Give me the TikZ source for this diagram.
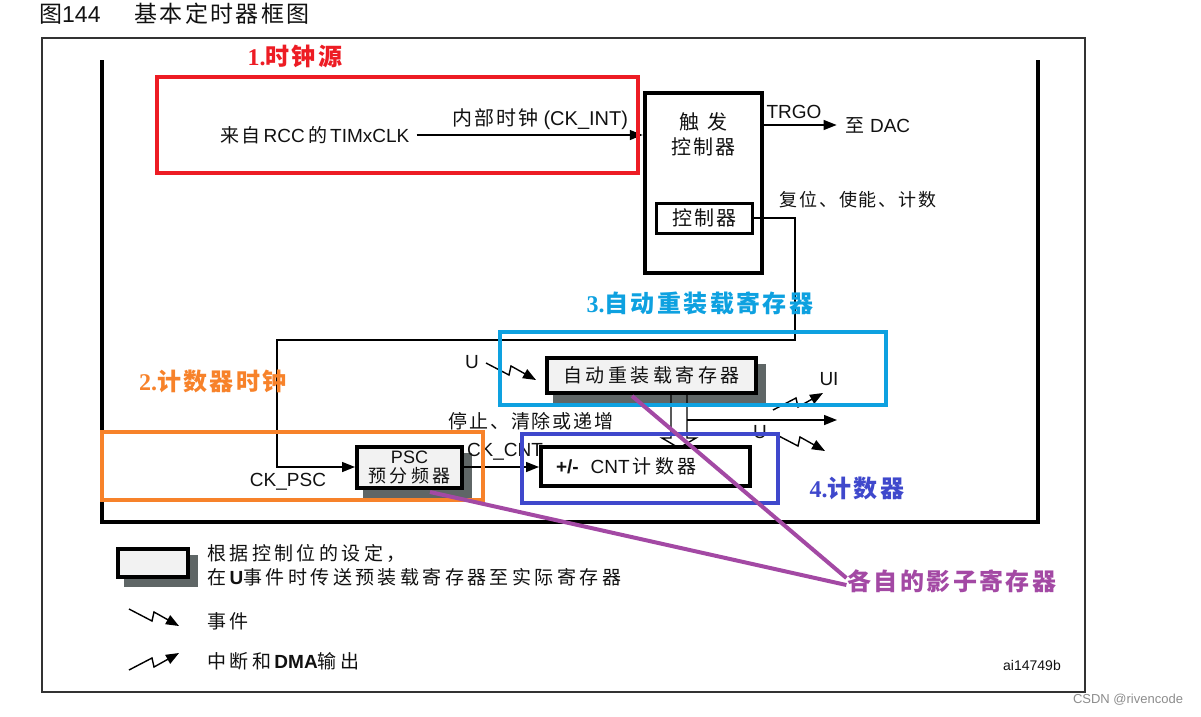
\documentclass[tikz,border=0pt]{standalone}
\usepackage{fontspec}
\setmainfont{Liberation Sans}
\newfontfamily\cjk{Noto Sans CJK SC}[LetterSpace=10]
\newfontfamily\cjkwide{Noto Sans CJK SC}[LetterSpace=18]
\newfontfamily\numfont{Liberation Serif}
\newcommand\zh[1]{{\cjk #1}}
\newcommand\zhw[1]{{\cjkwide #1}}
\usepackage{xcolor}
\definecolor{redc}{HTML}{ED1C24}
\definecolor{bluec}{HTML}{0EA1E0}
\definecolor{orangec}{HTML}{F7822A}
\definecolor{navyc}{HTML}{3F48CC}
\definecolor{purplec}{HTML}{A349A4}
\definecolor{boxgray}{HTML}{F2F2F2}
\definecolor{shadowgray}{HTML}{5F6666}
\definecolor{inkc}{HTML}{111111}
\usetikzlibrary{positioning,arrows.meta,calc}
\pgfdeclarelayer{shadowlayer}
\pgfsetlayers{shadowlayer,main}
\tikzset{
  txt/.style={font=\fontsize{19}{22}\selectfont, text=inkc, inner sep=1pt},
  areatag/.style={font=\fontsize{24}{26}\selectfont\bfseries, inner sep=1pt},
  ctlbox/.style={draw=black, line width=4.5pt, fill=white, inner sep=0pt, txt},
  regbox/.style={ctlbox, line width=4pt, fill=boxgray},
  boxshade/.style={fill=shadowgray},
  hilite/.style={draw=#1, line width=4pt},
  sig/.style={-{Triangle[length=13pt,width=10pt]}, line width=1.4pt},
  wire/.style={line width=1.4pt},
  shline/.style={draw=purplec, line width=4pt},
  outerframe/.style={draw=black!80, line width=2pt},
  wall/.style={draw=black, line width=4.5pt},
  evtsym/.pic={\draw[sig] (0,0) -- (23,12) -- (25,3) -- (50,17);},
  irqsym/.pic={\draw[sig] (0,0) -- (23,-12) -- (25,-3) -- (50,-17);},
}
\begin{document}
\begin{tikzpicture}[x=1pt,y=-1pt]
  \useasboundingbox (0,0) rectangle (1201,716);
  \node[txt, anchor=west, font=\fontsize{23}{26}\selectfont] (title) at (38,14) {\zh{图}144\hspace{34pt}\zh{基本定时器框图}};
  \draw[outerframe] (42,38) rectangle (1085,692);
  \draw[wall] (102,60) -- (102,522) -- (1038,522) -- (1038,60);

  % clock source and trigger controller
  \node[txt] (src) at (315,135) {\zh{来自}\,RCC\,\zh{的}\,TIMxCLK};
  \node[ctlbox, minimum width=117, minimum height=180] (trig) at (703.5,183) {};
  \node[txt, align=center, font=\fontsize{20}{25}\selectfont, below=21pt of trig.north] (trigtxt) {\zh{触\hspace{8pt}发}\\\zh{控制器}};
  \node[ctlbox, line width=3pt, minimum width=96, minimum height=30, font=\fontsize{20}{22}\selectfont] (ctl) at (704,218) {\zh{控制器}};
  \node[txt, font=\fontsize{20}{22}\selectfont] (ckint) at (540,119) {\zh{内部时钟} (CK\_INT)};
  \draw[sig] ([xshift=6pt]src.east) -- (src.east -| trig.west);
  \node[txt] (dac) at (878,125) {\zh{至} DAC};
  \node[txt] (trgo) at (794,112) {TRGO};
  \draw[sig] (trig.east |- dac.west) -- ([xshift=-8pt]dac.west);
  \node[txt, font=\fontsize{18}{21}\selectfont] (rst) at (858,200) {\zh{复位、使能、计数}};

  % prescaler, reload register, counter
  \node[regbox, minimum width=105, minimum height=41, align=center, font=\fontsize{18}{19}\selectfont] (psc) at (409.5,467) {PSC\\\zhw{预分频器}};
  \node[regbox, minimum width=209, minimum height=35] (arr) at (651.5,375.5) {\zhw{自动重装载寄存器}};
  \node[ctlbox, line width=4pt, inner xsep=15pt, text width=179pt, minimum height=39, align=left] (cnt) at (645.5,466.5) {\textbf{+/-}\hspace{12pt}CNT\,\zhw{计数器}};
  \draw[sig] (ctl.east) -| (795,340) -- (277,340) |- (psc.west);
  \draw[sig] (psc.east) -- (psc.east -| cnt.west);
  \node[txt] (ckpsc) at (288,482) {CK\_PSC};
  \node[txt] (ckcnt) at (505,452) {CK\_CNT};
  \node[txt] (stop) at (531,421) {\zh{停止、清除或递增}};
  \coordinate (ra) at (671,393);
  \coordinate (rb) at (687,393);
  \draw[wire] (ra) -- (671,438) -- (662,438) -- (679,448) -- (696,438) -- (687,438) -- (rb);
  \coordinate (rc) at (687,420);
  \draw[sig] (rc) -- (837,420);

  % events
  \node[txt] (uin) at (472,362) {U};
  \pic at (486,363) {evtsym};
  \node[txt] (ui) at (829,379) {UI};
  \pic at (773,410) {irqsym};
  \node[txt] (uout) at (760,432) {U};
  \pic at (775,434) {evtsym};

  % legend
  \node[regbox, minimum width=70, minimum height=28] (lgbox) at (153,563) {};
  \node[txt, anchor=north west, align=left, font=\fontsize{19}{24}\selectfont] (lgtxt) at (206,543) {\zhw{根据控制位的设定，}\\\zhw{在}\textbf{U}\zhw{事件时传送预装载寄存器至实际寄存器}};
  \pic at (129,609) {evtsym};
  \node[txt, anchor=west] (lgev) at (206,621) {\zhw{事件}};
  \pic at (129,670) {irqsym};
  \node[txt, anchor=west] (lgirq) at (206,661) {\zhw{中断和}\textbf{DMA}\zhw{输出}};
  \node[txt, font=\fontsize{14}{14}\selectfont] (code) at (1032,665) {ai14749b};
  \node[txt, text=black!45, font=\fontsize{13}{13}\selectfont] (wm) at (1128,700) {CSDN @rivencode};

  % shadows of the preload boxes
  \begin{pgfonlayer}{shadowlayer}
    \foreach \b in {psc,arr,lgbox}
      \fill[boxshade] ($(\b.south west)+(8,8)$) rectangle ($(\b.north east)+(8,8)$);
  \end{pgfonlayer}

  % highlighted areas
  \draw[hilite=redc] (157,77) rectangle (638,173);
  \draw[hilite=bluec] (500,332) rectangle (886,405);
  \draw[hilite=orangec] (102,432) rectangle (483,500);
  \draw[hilite=navyc] (522,434) rectangle (778,503);
  \node[areatag, text=redc] (tag1) at (295,56) {{\numfont 1.}\zh{时钟源}};
  \node[areatag, text=orangec] (tag2) at (213,381) {{\numfont 2.}\zh{计数器时钟}};
  \node[areatag, text=bluec] (tag3) at (700,303) {{\numfont 3.}\zh{自动重装载寄存器}};
  \node[areatag, text=navyc] (tag4) at (857,488) {{\numfont 4.}\zh{计数器}};
  \node[areatag, text=purplec] (shtag) at (952,581) {\zh{各自的影子寄存器}};
  \coordinate (arrsh) at (632,396);
  \coordinate (pscsh) at (430,492);
  \draw[shline] (arrsh) -- ([yshift=3pt]shtag.west);
  \draw[shline] (pscsh) -- ([yshift=-4pt]shtag.west);
\end{tikzpicture}
\end{document}
